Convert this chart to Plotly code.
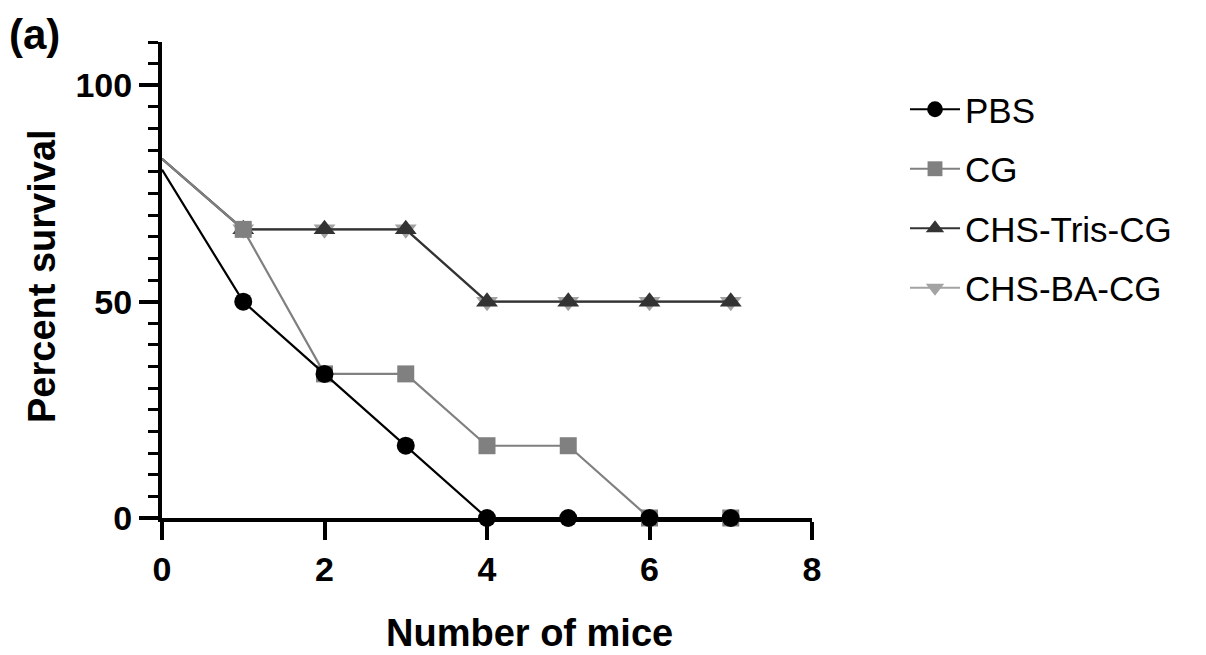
import plotly.graph_objects as go

x_vals = [0, 1, 2, 3, 4, 5, 6, 7]
pbs = [80.5, 50, 33.3, 16.7, 0, 0, 0, 0]
cg = [83, 66.7, 33.3, 33.3, 16.7, 16.7, 0, 0]
chs_tris = [83, 66.7, 66.7, 66.7, 50, 50, 50, 50]
chs_ba = [83, 66.7, 66.7, 66.7, 50, 50, 50, 50]

x_ticks = [0, 2, 4, 6, 8]
y_ticks = [0, 50, 100]

FONT = "Arial, Liberation Sans, sans-serif"

series = [
    # name, values, color, symbol, size, rank
    ("CHS-BA-CG", chs_ba, "#a3a3a3", "triangle-down", 19, 4),
    ("CHS-Tris-CG", chs_tris, "#333333", "triangle-up", 19, 3),
    ("CG", cg, "#808080", "square", 17, 2),
    ("PBS", pbs, "#000000", "circle", 18, 1),
]

fig = go.Figure()
for name, vals, color, sym, sz, rank in series:
    sizes = [0] + [sz] * (len(vals) - 1)
    fig.add_trace(go.Scatter(
        x=x_vals, y=vals, name=name, mode="lines+markers",
        line=dict(color=color, width=2.2),
        marker=dict(symbol=sym, size=sizes, color=color, opacity=1,
                    line=dict(width=0)),
        cliponaxis=False, legendrank=rank, legendgroup=name,
    ))

fig.update_layout(
    width=1206, height=655,
    margin=dict(l=162, r=394, t=42, b=137),
    plot_bgcolor="white", paper_bgcolor="white",
    font=dict(family=FONT, color="black"),
    showlegend=True,
    legend=dict(
        xref="container", yref="container",
        x=905 / 1206, y=1 - 80 / 655, xanchor="left", yanchor="top",
        font=dict(size=35, family=FONT, color="black"),
        traceorder="grouped", tracegroupgap=11,
        itemwidth=50, bgcolor="rgba(0,0,0,0)",
    ),
    xaxis=dict(
        range=[0, 8], tickvals=x_ticks, ticktext=[str(v) for v in x_ticks],
        showline=True, linecolor="black", linewidth=4,
        ticks="outside", ticklen=18, tickwidth=4, tickcolor="black",
        showgrid=False, zeroline=False, layer="below traces",
        tickfont=dict(size=34, family=FONT, color="black", weight="bold"),
    ),
    yaxis=dict(
        range=[0, 110], tickvals=y_ticks, ticktext=[str(v) for v in y_ticks],
        showline=True, linecolor="black", linewidth=4,
        ticks="outside", ticklen=19, tickwidth=4, tickcolor="black",
        minor=dict(tickvals=list(range(5, 111, 5)), ticks="outside", ticklen=10,
                   tickwidth=3, tickcolor="black", showgrid=False),
        showgrid=False, zeroline=False, layer="below traces",
        tickfont=dict(size=34, family=FONT, color="black", weight="bold"),
    ),
    annotations=[
        dict(text="<b>(a)</b>", xref="paper", yref="paper",
             x=(7 - 162) / 650, y=(518 - 34) / 476, xanchor="left", yanchor="middle",
             showarrow=False, font=dict(size=42, family=FONT, color="black")),
        dict(text="<b>Number of mice</b>", xref="paper", yref="paper",
             x=(529 - 162) / 650, y=(518 - 633) / 476, xanchor="center", yanchor="middle",
             showarrow=False, font=dict(size=38, family=FONT, color="black")),
        dict(text="<b>Percent survival</b>", xref="paper", yref="paper",
             x=(42 - 162) / 650, y=(518 - 276) / 476, xanchor="center", yanchor="middle",
             textangle=-90, showarrow=False,
             font=dict(size=38, family=FONT, color="black")),
    ],
)

fig.write_html("out.html")
